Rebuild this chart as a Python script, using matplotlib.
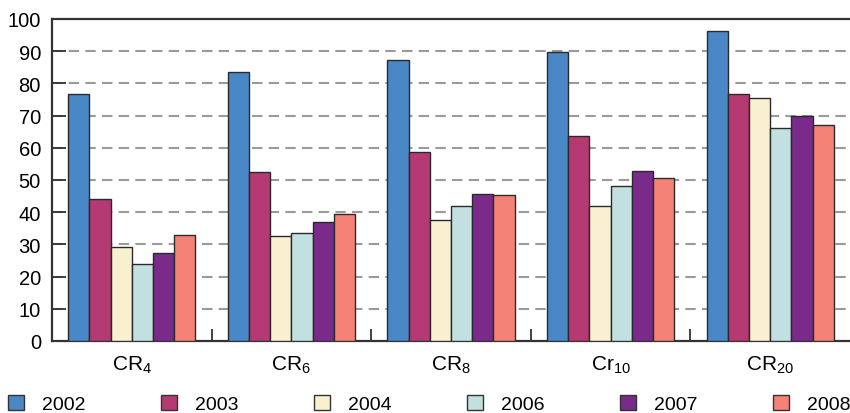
import numpy as np
import matplotlib
matplotlib.use("Agg")
import matplotlib.pyplot as plt
import matplotlib.patches as mpatches

plt.rcParams['font.family'] = ['Liberation Sans', 'DejaVu Sans']
plt.rcParams['mathtext.default'] = 'regular'

categories = ['CR$_4$', 'CR$_6$', 'CR$_8$', 'Cr$_{10}$', 'CR$_{20}$']
years = ['2002', '2003', '2004', '2006', '2007', '2008']
colors = ['#4A87C7', '#B53A73', '#F8F0CF', '#C2E0DF', '#7A2A8A', '#F58277']

# values per year, one per category
v2002 = [76.8, 83.5, 87.2, 89.6, 96.3]
v2003 = [44.2, 52.4, 58.6, 63.8, 76.8]
v2004 = [29.2, 32.5, 37.7, 42.0, 75.5]
v2006 = [24.0, 33.5, 42.0, 48.2, 66.2]
v2007 = [27.3, 36.8, 45.8, 52.9, 70.0]
v2008 = [32.9, 39.5, 45.3, 50.5, 67.2]
series = [v2002, v2003, v2004, v2006, v2007, v2008]

fig = plt.figure(figsize=(8.5, 4.14), dpi=100)
ax = fig.add_axes([0.0612, 0.174, 0.9388, 0.7777])

x = np.arange(len(categories))
w = 0.1327
for i, vals in enumerate(series):
    ax.bar(x + (i - 2.5) * w, vals, w, color=colors[i], edgecolor='#2a2a2a',
           linewidth=1.0, zorder=3)

ax.set_xlim(-0.5, len(categories) - 0.5)
ax.set_ylim(0, 100)
ax.set_yticks(range(0, 101, 10))
for yv in range(10, 100, 10):
    ax.axhline(yv, color='#9a9a9a', lw=1.5, ls=(0, (5, 3)), zorder=1)

ax.set_xticks(x)
ax.set_xticklabels(categories, fontsize=15)
ax.set_xticks(np.arange(0.5, len(categories) - 1, 1), minor=True)
ax.tick_params(axis='x', which='major', length=0, pad=9)
ax.tick_params(axis='x', which='minor', direction='in', length=9, width=1.3, color='#333333')
ax.tick_params(axis='y', direction='in', length=10, width=1.3, color='#333333',
               labelsize=14.5, pad=8)

for s in ['left', 'bottom', 'top']:
    ax.spines[s].set_linewidth(1.6)
    ax.spines[s].set_color('#333333')
ax.spines['right'].set_visible(False)

handles = [mpatches.Patch(facecolor=c, edgecolor='#333333', linewidth=1.0, label=y)
           for c, y in zip(colors, years)]
fig.legend(handles=handles, loc='center left', bbox_to_anchor=(8 / 850, 0.022), ncol=6,
           frameon=False, fontsize=14, handlelength=0.82, handleheight=0.82,
           handletextpad=0.93, columnspacing=3.88, borderpad=0, borderaxespad=0)

fig.savefig('out.png', dpi=100)
